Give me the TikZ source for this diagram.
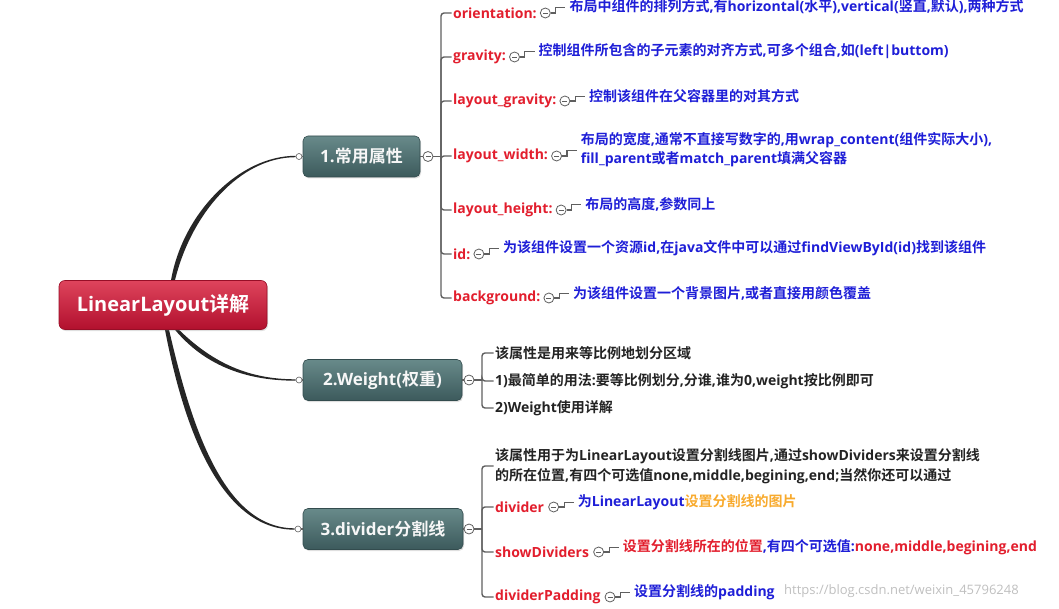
\documentclass[tikz,border=0pt]{standalone}
\usepackage{fontspec}
\setmainfont{Open Sans}
\newfontfamily\cjkf{Noto Sans CJK SC}[BoldFont={Noto Sans CJK SC Bold}]
\newcommand\zh[1]{{\cjkf #1}}
\usetikzlibrary{positioning,calc,shadows,backgrounds}
\definecolor{lblred}{RGB}{226,30,45}
\definecolor{txtblue}{RGB}{30,30,215}
\definecolor{txtorange}{RGB}{248,170,45}
\definecolor{txtblack}{RGB}{35,35,35}
\definecolor{linegray}{RGB}{95,95,95}
\definecolor{tealtop}{RGB}{104,138,138}
\definecolor{tealbot}{RGB}{60,90,92}
\definecolor{redtop}{RGB}{222,68,92}
\definecolor{redbot}{RGB}{178,16,46}
\tikzset{
  rootbox/.style={rounded corners=6pt, top color=redtop, bottom color=redbot,
    draw=redbot!85!black, line width=0.6pt, text=white,
    font=\bfseries\fontsize{20}{24}\selectfont, minimum width=208pt,
    minimum height=49pt, inner sep=0pt,
    drop shadow={opacity=0.25, shadow xshift=1pt, shadow yshift=-1.5pt}},
  lvlbox/.style={rounded corners=5pt, top color=tealtop, bottom color=tealbot,
    draw=tealbot!85!black, line width=0.6pt, text=white!94!gray,
    font=\bfseries\fontsize{17}{20}\selectfont, minimum height=41pt,
    inner sep=0pt,
    drop shadow={opacity=0.25, shadow xshift=1pt, shadow yshift=-1.5pt}},
  lbl/.style={anchor=west, inner sep=0pt, text=lblred,
    font=\bfseries\fontsize{14}{16}\selectfont},
  desc/.style={anchor=west, inner sep=0pt, text=txtblue, align=left,
    font=\bfseries\fontsize{14}{19}\selectfont},
  plaintxt/.style={anchor=west, inner sep=0pt, text=txtblack, align=left,
    font=\bfseries\fontsize{14}{20}\selectfont},
  collapse/.style={circle, draw=linegray, fill=white, line width=0.8pt,
    minimum size=10pt, inner sep=0pt,
    path picture={\draw[linegray, line width=0.8pt]
      ([xshift=-2.5pt]path picture bounding box.center) --
      ([xshift=2.5pt]path picture bounding box.center);}},
  dotc/.style={circle, draw=linegray, fill=white, minimum size=6pt,
    inner sep=0pt, line width=0.6pt},
  brk/.style={draw=linegray, line width=1.4pt, rounded corners=3pt},
  elb/.style={draw=linegray, line width=1.1pt},
  curvefill/.style={fill=black!85},
}
\begin{document}
\begin{tikzpicture}[x=1pt,y=-1pt]
\useasboundingbox (0,0) rectangle (1059,609);

% main nodes
\node[rootbox] (root) at (163,305) {Linear\-Layout\zh{详解}};
\node[lvlbox, minimum width=117pt] (n1) at (361.5,156.5) {1.\zh{常用属性}};
\node[lvlbox, minimum width=159pt] (n2) at (382.5,380) {2.Weight(\zh{权重})};
\node[lvlbox, minimum width=160pt] (n3) at (383,529) {3.divider\zh{分割线}};

\node[dotc] (d1) at (299,156.5) {};
\node[dotc] (d2) at (299,380) {};
\node[dotc] (d3) at (298,529) {};

\node[collapse] (c1) at (428,156.5) {};
\node[collapse] (c2) at (469,380) {};
\node[collapse] (c3) at (469,529) {};

% root connectors (tapered)
\begin{scope}[on background layer]
\fill[curvefill] ([xshift=8pt]root.north) .. controls (183,212) and (240,155.8) .. ([yshift=0.7pt]d1.west)
  -- ([yshift=-0.7pt]d1.west) .. controls (240,157.2) and (191,214) .. ([xshift=12pt]root.north) -- cycle;
\fill[curvefill] ([xshift=16pt]root.south) .. controls (214,364) and (250,379.3) .. ([yshift=0.7pt]d2.west)
  -- ([yshift=-0.7pt]d2.west) .. controls (250,380.7) and (207,368) .. ([xshift=12pt]root.south) -- cycle;
\fill[curvefill] ([xshift=6pt]root.south) .. controls (190,420) and (222,528.3) .. ([yshift=0.7pt]d3.west)
  -- ([yshift=-0.7pt]d3.west) .. controls (219,529.7) and (183,424) .. ([xshift=2pt]root.south) -- cycle;
\end{scope}
\draw[elb] (d1) -- (n1.west);
\draw[elb] (d2) -- (n2.west);
\draw[elb] (d3) -- (n3.west);
\draw[elb] (n1.east) -- (c1);
\draw[elb] (n2.east) -- (c2);
\draw[elb] (n3.east) -- (c3);

% ---------- branch 1 ----------
\coordinate (b1) at (441,156.5);
\draw[brk] (c1.east) -- (b1);
\node[lbl] (l1) at (453,13) {orientation:};
\node[lbl] (l2) at (453,57) {gravity:};
\node[lbl] (l3) at (453,101) {layout\_gravity:};
\node[lbl] (l4) at (453,156) {layout\_width:};
\node[lbl] (l5) at (453,210) {layout\_height:};
\node[lbl] (l6) at (453,254) {id:};
\node[lbl] (l7) at (453,298) {background:};
\foreach \i in {1,...,7}{
  \draw[brk] (b1) |- ([xshift=-1.5pt]l\i.west);
  \node[collapse, right=3pt of l\i] (q\i) {};
}
\node[desc] (t1) at ($(q1)+(24,-6)$) {\zh{布局中组件的排列方式},\zh{有}horizontal(\zh{水平}),vertical(\zh{竖直},\zh{默认}),\zh{两种方式}};
\node[desc] (t2) at ($(q2)+(24,-6)$) {\zh{控制组件所包含的子元素的对齐方式},\zh{可多个组合},\zh{如}(left|buttom)};
\node[desc] (t3) at ($(q3)+(24,-5)$) {\zh{控制该组件在父容器里的对其方式}};
\node[desc] (t4) at ($(q4)+(24,-6)$) {\zh{布局的宽度},\zh{通常不直接写数字的},\zh{用}wrap\_content(\zh{组件实际大小}),\\fill\_parent\zh{或者}match\_parent\zh{填满父容器}};
\node[desc] (t5) at ($(q5)+(24,-6)$) {\zh{布局的高度},\zh{参数同上}};
\node[desc] (t6) at ($(q6)+(24,-6)$) {\zh{为该组件设置一个资源}id,\zh{在}java\zh{文件中可以通过}findViewById(id)\zh{找到该组件}};
\node[desc] (t7) at ($(q7)+(24,-5)$) {\zh{为该组件设置一个背景图片},\zh{或者直接用颜色覆盖}};
\foreach \i in {1,...,7}{
  \draw[elb] (q\i.east) -- ++(5,0) |- ([xshift=-4pt,yshift=-0.5pt]t\i.west);
}

% ---------- branch 2 ----------
\coordinate (b2) at (482,380);
\draw[brk] (c2.east) -- (b2);
\node[plaintxt] (k1) at (495,353) {\zh{该属性是用来等比例地划分区域}};
\node[plaintxt] (k2) at (495,381) {1)\zh{最简单的用法}:\zh{要等比例划分},\zh{分谁},\zh{谁为}0,weight\zh{按比例即可}};
\node[plaintxt] (k3) at (495,408) {2)Weight\zh{使用详解}};
\foreach \i in {1,2,3}{
  \draw[brk] (b2) |- ([xshift=-1.5pt]k\i.west);
}

% ---------- branch 3 ----------
\coordinate (b3) at (482,529);
\draw[brk] (c3.east) -- (b3);
\node[plaintxt] (m1) at (495,466) {\zh{该属性用于为}LinearLayout\zh{设置分割线图片},\zh{通过}showDividers\zh{来设置分割线}\\\zh{的所在位置},\zh{有四个可选值}none,middle,begining,end;\zh{当然你还可以通过}};
\node[lbl] (m2) at (495,507) {divider};
\node[lbl] (m3) at (495,552) {showDividers};
\node[lbl] (m4) at (495,597) {dividerPadding};
\foreach \i in {1,2,3,4}{
  \draw[brk] (b3) |- ([xshift=-1.5pt]m\i.west);
}
\foreach \i in {2,3,4}{
  \node[collapse, right=4pt of m\i] (p\i) {};
}
\node[desc] (s2) at ($(p2)+(24,-5)$) {\zh{为}LinearLayout\textcolor{txtorange}{\zh{设置分割线的图片}}};
\node[desc] (s3) at ($(p3)+(24,-5)$) {\textcolor{lblred}{\zh{设置分割线所在的位置}},\zh{有四个可选值}:\textcolor{lblred}{none,middle,begining,end}};
\node[desc] (s4) at ($(p4)+(24,-5)$) {\zh{设置分割线的}padding};
\foreach \i in {2,3,4}{
  \draw[elb] (p\i.east) -- ++(5,0) |- ([xshift=-4pt,yshift=-0.5pt]s\i.west);
}

% watermark
\node[anchor=west, inner sep=0pt, text=gray!50, font=\fontsize{13}{15}\selectfont] (wm) at (784,591) {https://blog.csdn.net/weixin\_45796248};
\end{tikzpicture}
\end{document}
